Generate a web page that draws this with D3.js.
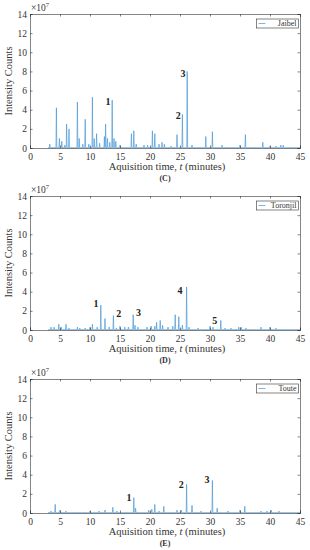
<!DOCTYPE html>
<html>
<head>
<meta charset="utf-8">
<script src="https://cdn.jsdelivr.net/npm/d3@7"></script>
<style>
  body { margin: 0; background: #fff; }
  svg { display: block; font-family: "Liberation Serif", "Times New Roman", serif; }
</style>
</head>
<body>
<svg id="chart" width="310" height="550"></svg>
<script>
// chromatogram peaks: retention time (min) and height (x10^7 counts)
const jaibelTimes   = [3.3, 4.4, 4.9, 5.3, 5.8, 6.1, 6.5, 7.9, 8.2, 8.8, 9.2, 9.8, 10.4, 10.7, 11.1, 11.6, 12.4, 12.6, 12.9, 13.3, 13.7, 14.0, 14.3, 15.0, 16.9, 17.3, 17.7, 19.0, 19.6, 20.4, 20.8, 21.5, 22.0, 22.4, 23.5, 24.5, 25.4, 26.2, 27.0, 29.3, 30.4, 32.0, 35.0, 35.9, 38.8, 40.0, 41.0, 41.8, 42.2];
const jaibelHeights = [0.4, 4.2, 1.0, 0.7, 0.3, 2.5, 2.0, 4.8, 1.0, 0.4, 3.0, 0.4, 5.3, 1.0, 1.5, 0.5, 1.2, 2.5, 1.0, 0.6, 5.0, 1.0, 0.7, 0.3, 1.5, 1.8, 0.4, 0.3, 0.3, 1.8, 1.5, 0.4, 0.6, 0.4, 0.2, 1.4, 3.5, 8.0, 0.3, 1.2, 1.7, 0.3, 0.3, 1.4, 0.6, 0.2, 0.2, 0.3, 0.3];

const toronjilTimes   = [3.5, 4.0, 4.8, 5.2, 6.0, 6.5, 7.9, 8.3, 9.2, 10.0, 10.4, 11.2, 11.8, 12.5, 13.2, 13.9, 14.4, 15.0, 15.8, 16.4, 17.2, 17.5, 18.0, 19.5, 20.2, 20.8, 21.1, 21.7, 22.1, 23.0, 23.8, 24.2, 24.8, 25.4, 26.1, 26.5, 28.0, 30.0, 30.5, 31.8, 32.5, 33.5, 34.8, 35.2, 36.0, 38.5, 40.0, 41.0];
const toronjilHeights = [0.3, 0.3, 0.6, 0.3, 0.6, 0.2, 0.3, 0.2, 0.2, 0.3, 0.6, 0.3, 2.6, 1.2, 0.3, 1.5, 0.2, 0.4, 0.3, 0.3, 1.6, 0.5, 0.3, 0.3, 0.4, 0.4, 0.8, 1.0, 0.5, 0.3, 0.4, 1.6, 1.4, 0.5, 4.5, 0.3, 0.2, 0.4, 0.3, 1.0, 0.2, 0.2, 0.3, 0.3, 0.2, 0.3, 0.3, 0.2];

const touteTimes   = [3.5, 4.2, 5.0, 6.0, 8.0, 10.0, 11.5, 12.5, 13.8, 14.5, 17.3, 17.6, 19.8, 20.3, 20.8, 21.5, 22.3, 24.5, 25.2, 26.1, 27.0, 28.5, 30.4, 31.2, 33.0, 35.0, 35.8, 38.5, 39.5, 40.2, 41.5];
const touteHeights = [0.2, 0.9, 0.3, 0.2, 0.1, 0.2, 0.2, 0.3, 0.6, 0.2, 1.6, 0.5, 0.3, 0.4, 0.9, 0.2, 0.7, 0.3, 0.3, 3.0, 0.8, 0.2, 3.4, 0.5, 0.2, 0.3, 0.7, 0.2, 0.2, 0.3, 0.2];

// numbered peak annotations (time, height, text)
const jaibelNotes   = [[13.0, 4.7, "1"], [24.7, 3.3, "2"], [25.5, 7.7, "3"]];
const toronjilNotes = [[11.0, 2.6, "1"], [14.8, 1.65, "2"], [18.1, 1.75, "3"], [25.0, 4.0, "4"], [30.8, 0.9, "5"]];
const touteNotes    = [[16.5, 1.5, "1"], [25.2, 2.9, "2"], [29.5, 3.35, "3"]];

const xTicks = [0, 5, 10, 15, 20, 25, 30, 35, 40, 45];
const yTicks = [0, 2, 4, 6, 8, 10, 12, 14];

const svg = d3.select("#chart");
const lineColor = "#4a98d6";
const ink = "#333";

function drawPanel(top, name, times, heights, notes, caption) {
  const left = 30, right = 300, h = 134;
  const x = d3.scaleLinear().domain([0, 45]).range([left, right]);
  const y = d3.scaleLinear().domain([0, 14]).range([top + h, top]);
  const g = svg.append("g");

  // trace: each peak as a narrow spike off the baseline
  const pts = [[3, 0.03]];
  times.forEach((t, i) => {
    pts.push([t - 0.07, 0.03], [t, heights[i]], [t + 0.07, 0.03]);
  });
  pts.push([45, 0.03]);
  g.append("path")
    .attr("d", d3.line().x(d => x(d[0])).y(d => y(d[1]))(pts))
    .attr("fill", "none")
    .attr("stroke", lineColor)
    .attr("stroke-width", 0.7);

  // axes, MATLAB style: ticks inward, box on
  const axB = g.append("g").attr("transform", `translate(0,${top + h})`)
    .call(d3.axisBottom(x).tickValues(xTicks).tickSize(-2.5).tickPadding(5));
  const axT = g.append("g").attr("transform", `translate(0,${top})`)
    .call(d3.axisTop(x).tickValues(xTicks).tickSize(-2.5).tickFormat(""));
  const axL = g.append("g").attr("transform", `translate(${left},0)`)
    .call(d3.axisLeft(y).tickValues(yTicks).tickSize(-2.5).tickPadding(3));
  const axR = g.append("g").attr("transform", `translate(${right},0)`)
    .call(d3.axisRight(y).tickValues(yTicks).tickSize(-2.5).tickFormat(""));
  [axB, axT, axL, axR].forEach(a => {
    a.select(".domain").attr("stroke", ink).attr("stroke-width", 0.6);
    a.selectAll(".tick line").attr("stroke", ink).attr("stroke-width", 0.6);
    a.selectAll("text").attr("font-family", "Liberation Serif, serif")
      .attr("font-size", 9.5).attr("fill", ink);
  });

  // exponent
  const ex = g.append("text").attr("x", left + 1).attr("y", top - 3)
    .attr("font-size", 9.5).attr("fill", ink).text("\u00d710");
  ex.append("tspan").attr("dy", -4).attr("font-size", 6.5).text("7");

  // y label
  g.append("text")
    .attr("transform", `translate(12,${top + h / 2}) rotate(-90)`)
    .attr("text-anchor", "middle").attr("font-size", 10.5).attr("fill", ink)
    .text("Intensity Counts");

  // x label
  const xl = g.append("text").attr("x", (left + right) / 2 + 2).attr("y", top + h + 22)
    .attr("text-anchor", "middle").attr("font-size", 10.5).attr("fill", ink);
  xl.append("tspan").text("Aquisition time, ");
  xl.append("tspan").attr("font-style", "italic").text("t");
  xl.append("tspan").text(" (minutes)");

  // caption
  g.append("text").attr("x", (left + right) / 2).attr("y", top + h + 33)
    .attr("text-anchor", "middle").attr("font-size", 8).attr("font-weight", "bold")
    .attr("fill", ink).text(caption);

  // peak numbers
  g.selectAll(".note").data(notes).enter().append("text")
    .attr("x", d => x(d[0])).attr("y", d => y(d[1]))
    .attr("text-anchor", "middle").attr("dominant-baseline", "middle")
    .attr("font-size", 10).attr("font-weight", "bold").attr("fill", "#222")
    .text(d => d[2]);

  // legend
  const lw = 42, lx = right - lw - 1.5, ly = top + 5;
  g.append("rect").attr("x", lx).attr("y", ly).attr("width", lw).attr("height", 9)
    .attr("fill", "#fff").attr("stroke", ink).attr("stroke-width", 0.6);
  g.append("line").attr("x1", lx + 2).attr("x2", lx + 9).attr("y1", ly + 4.5).attr("y2", ly + 4.5)
    .attr("stroke", lineColor).attr("stroke-width", 0.7);
  g.append("text").attr("x", lx + lw - 2).attr("y", ly + 7)
    .attr("text-anchor", "end").attr("font-size", 8).attr("fill", ink).text(name);
}

drawPanel(14, "Jaibel", jaibelTimes, jaibelHeights, jaibelNotes, "(C)");
drawPanel(196, "Toronjil", toronjilTimes, toronjilHeights, toronjilNotes, "(D)");
drawPanel(379, "Toute", touteTimes, touteHeights, touteNotes, "(E)");
</script>
</body>
</html>
